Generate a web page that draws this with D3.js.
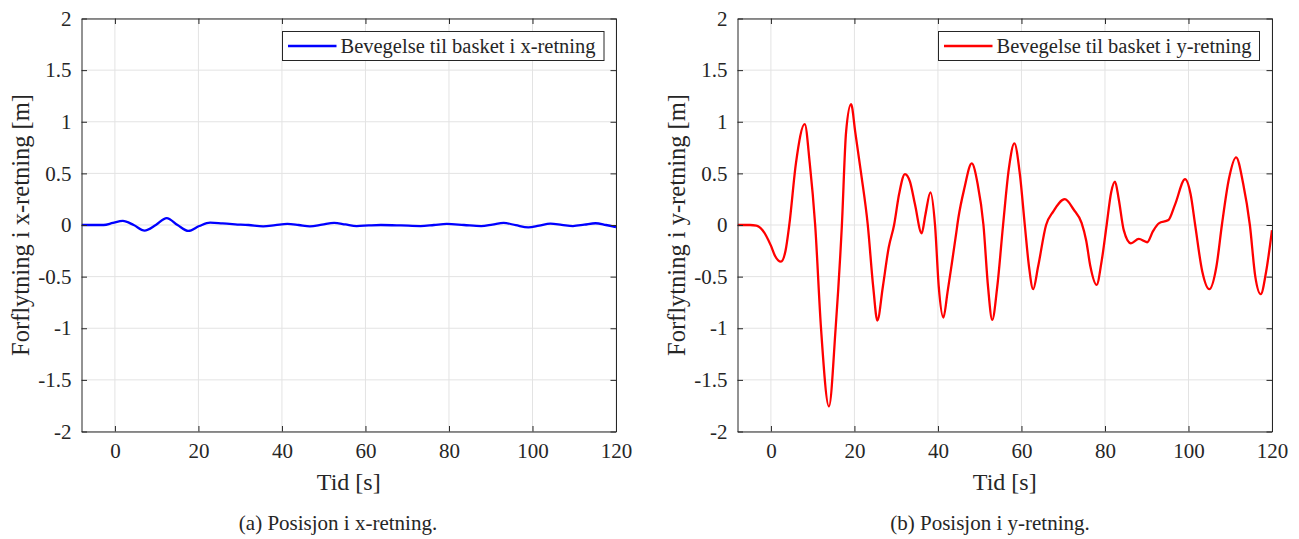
<!DOCTYPE html>
<html>
<head>
<meta charset="utf-8">
<script src="https://cdn.jsdelivr.net/npm/d3@7"></script>
<style>
  html, body { margin: 0; padding: 0; background: #fff; }
  svg { display: block; }
  text { font-family: "Liberation Serif", "Times New Roman", serif; fill: #262626; }
</style>
</head>
<body>
<svg id="chart" width="1299" height="539"></svg>
<script>
// ---- Data ----
const xTicks = [0, 20, 40, 60, 80, 100, 120];
const yTicks = [-2, -1.5, -1, -0.5, 0, 0.5, 1, 1.5, 2];
const yTickLabels = ["-2", "-1.5", "-1", "-0.5", "0", "0.5", "1", "1.5", "2"];

const timeX = [-8, -5, -2.7, -0.5, 1.9, 4.5, 7.1, 9.8, 12.4, 15.0, 17.6, 20.2, 22.8, 25.8, 28.8, 32.0, 35.5, 38.4, 41.3, 44.0, 46.7, 49.6, 52.5, 55.2, 57.9, 60.8, 63.7, 68.5, 73.2, 76.4, 79.5, 83.6, 87.7, 90.4, 93.1, 96.0, 99.0, 101.6, 104.3, 107.0, 109.7, 112.4, 115.1, 117.6, 120];
const posX  = [0, 0, 0, 0.02, 0.040, 0.0, -0.054, 0.0, 0.067, 0.0, -0.057, -0.01, 0.023, 0.015, 0.007, 0.0, -0.013, -0.002, 0.01, 0.0, -0.013, 0.003, 0.02, 0.005, -0.01, -0.004, 0.0, -0.004, -0.01, 0.0, 0.01, 0.0, -0.01, 0.004, 0.02, -0.002, -0.023, -0.005, 0.013, 0.002, -0.01, 0.003, 0.017, 0.0, -0.02];

const timeY = [-8, -5, -3.5, -2, 0, 1, 2.4, 3.5, 4.4, 6, 8.1, 9.3, 10.6, 12, 13.9, 15.5, 17.0, 18, 19.2, 20.2, 21.6, 23.2, 24.5, 25.5, 26.8, 28.2, 29.5, 30.7, 32.1, 33.3, 34.5, 36.1, 37, 38.2, 39.3, 40.2, 41.3, 42.3, 43.3, 44.3, 44.9, 46.3, 48.1, 49.5, 50.9, 52, 53.0, 54.2, 55.6, 57, 58.3, 59.6, 60.8, 61.8, 62.8, 64, 65.9, 67.6, 70.4, 72.5, 74.4, 75.5, 76.5, 78.0, 79.2, 80.4, 81.5, 82.4, 83.3, 84.5, 86.2, 88.1, 90.1, 91.5, 92.9, 95.2, 96.8, 99.2, 100.5, 101.6, 103.3, 105.0, 106.7, 108.0, 109.7, 111.4, 113.1, 114.7, 116.0, 117.3, 118.6, 120];
const posY  = [0, 0, -0.005, -0.05, -0.2, -0.3, -0.355, -0.25, 0, 0.6, 0.977, 0.6, 0, -1.0, -1.757, -1.0, 0, 0.9, 1.17, 0.9, 0.5, 0, -0.6, -0.925, -0.6, -0.22, 0, 0.3, 0.493, 0.42, 0.2, -0.08, 0.1, 0.316, 0, -0.6, -0.896, -0.65, -0.38, -0.1, 0.07, 0.35, 0.596, 0.4, 0, -0.6, -0.919, -0.6, 0, 0.55, 0.79, 0.5, 0, -0.4, -0.622, -0.4, 0, 0.13, 0.25, 0.15, 0.02, -0.15, -0.4, -0.58, -0.35, 0, 0.32, 0.42, 0.25, -0.05, -0.177, -0.135, -0.167, -0.06, 0.016, 0.048, 0.2, 0.445, 0.3, 0, -0.45, -0.622, -0.4, 0, 0.45, 0.655, 0.4, 0, -0.5, -0.67, -0.45, -0.05];

const panels = [
  { t: timeX, v: posX, color: "#0000ff", ylabel: "Forflytning i x-retning [m]", legend: "Bevegelse til basket i x-retning", caption: "(a) Posisjon i x-retning.", left: 81.5, right: 616, ylabelX: 20, legendX: 282.5, legendW: 321.5, captionX: 338 },
  { t: timeY, v: posY, color: "#ff0000", ylabel: "Forflytning i y-retning [m]", legend: "Bevegelse til basket i y-retning", caption: "(b) Posisjon i y-retning.", left: 737.5, right: 1272, ylabelX: 676, legendX: 938.5, legendW: 321, captionX: 990 }
];

const svg = d3.select("#chart");
const yTop = 18.5, yBottom = 431.5;
const axisColor = "#262626";
const gridColor = "#e3e3e3";

panels.forEach(p => {
  const x = d3.scaleLinear().domain([-8, 120]).range([p.left, p.right]);
  const y = d3.scaleLinear().domain([-2, 2]).range([yBottom, yTop]);
  const g = svg.append("g");

  // grid
  g.append("g").selectAll("line").data(xTicks).join("line")
    .attr("x1", d => x(d)).attr("x2", d => x(d)).attr("y1", yTop).attr("y2", yBottom)
    .attr("stroke", gridColor).attr("stroke-width", 1);
  g.append("g").selectAll("line").data(yTicks).join("line")
    .attr("x1", p.left).attr("x2", p.right).attr("y1", d => y(d)).attr("y2", d => y(d))
    .attr("stroke", gridColor).attr("stroke-width", 1);

  // clip
  const clipId = "clip" + Math.round(p.left);
  svg.append("clipPath").attr("id", clipId).append("rect")
    .attr("x", p.left).attr("y", yTop).attr("width", p.right - p.left).attr("height", yBottom - yTop);

  // line
  const line = d3.line().x(d => x(d[0])).y(d => y(d[1])).curve(d3.curveMonotoneX);
  g.append("path").datum(p.t.map((t, i) => [t, p.v[i]]))
    .attr("d", line).attr("fill", "none").attr("stroke", p.color)
    .attr("stroke-width", 2.3).attr("stroke-linejoin", "round")
    .attr("clip-path", `url(#${clipId})`);

  // axes (inward ticks, all four sides)
  const tl = 5.5;
  const xb = d3.axisBottom(x).tickValues(xTicks).tickSizeInner(-tl).tickSizeOuter(0).tickPadding(12).tickFormat(d3.format("d"));
  const xt = d3.axisTop(x).tickValues(xTicks).tickSizeInner(-tl).tickSizeOuter(0).tickFormat("");
  const yl = d3.axisLeft(y).tickValues(yTicks).tickSizeInner(-tl).tickSizeOuter(0).tickPadding(10).tickFormat((d, i) => yTickLabels[i]);
  const yr = d3.axisRight(y).tickValues(yTicks).tickSizeInner(-tl).tickSizeOuter(0).tickFormat("");

  const styleAxis = sel => {
    sel.attr("font-family", null);
    sel.selectAll("path.domain").attr("stroke", axisColor).attr("stroke-width", 1);
    sel.selectAll(".tick line").attr("stroke", axisColor).attr("stroke-width", 1);
    sel.selectAll("text").attr("font-size", 21).attr("fill", axisColor);
  };
  g.append("g").attr("transform", `translate(0,${yBottom})`).call(xb).call(styleAxis);
  g.append("g").attr("transform", `translate(0,${yTop})`).call(xt).call(styleAxis);
  g.append("g").attr("transform", `translate(${p.left},0)`).call(yl).call(styleAxis);
  g.append("g").attr("transform", `translate(${p.right},0)`).call(yr).call(styleAxis);

  // axis labels
  g.append("text").attr("x", (p.left + p.right) / 2).attr("y", 490)
    .attr("text-anchor", "middle").attr("font-size", 24).text("Tid [s]");
  g.append("text").attr("transform", `translate(${p.ylabelX},${(yTop + yBottom) / 2}) rotate(-90)`)
    .attr("text-anchor", "middle").attr("dominant-baseline", "central").attr("font-size", 24.5).text(p.ylabel);

  // legend
  const lg = g.append("g");
  lg.append("rect").attr("x", p.legendX).attr("y", 31.5).attr("width", p.legendW).attr("height", 29)
    .attr("fill", "#fff").attr("stroke", axisColor).attr("stroke-width", 1);
  lg.append("line").attr("x1", p.legendX + 5.5).attr("x2", p.legendX + 54).attr("y1", 46).attr("y2", 46)
    .attr("stroke", p.color).attr("stroke-width", 2.3);
  lg.append("text").attr("x", p.legendX + 58).attr("y", 46).attr("dominant-baseline", "central")
    .attr("font-size", 20.5).text(p.legend);

  // caption
  g.append("text").attr("x", p.captionX).attr("y", 530).attr("text-anchor", "middle")
    .attr("font-size", 21).attr("fill", "#000").text(p.caption);
});
</script>
</body>
</html>
